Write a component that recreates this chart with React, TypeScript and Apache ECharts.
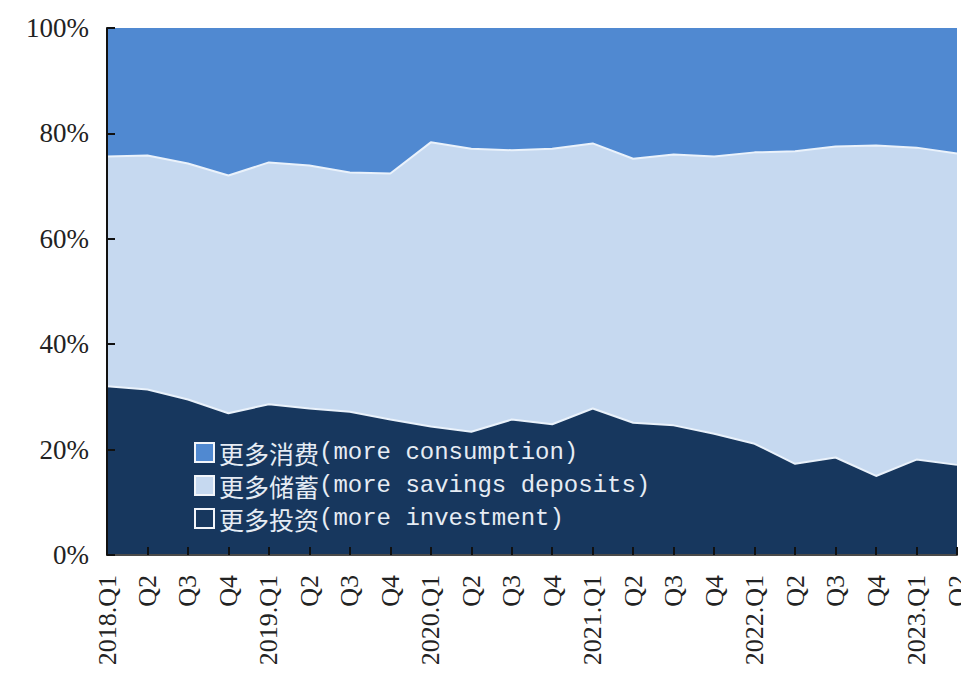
import React, { useEffect, useRef } from "react";
import * as echarts from "echarts";

const quarters = [
  "2018.Q1", "Q2", "Q3", "Q4",
  "2019.Q1", "Q2", "Q3", "Q4",
  "2020.Q1", "Q2", "Q3", "Q4",
  "2021.Q1", "Q2", "Q3", "Q4",
  "2022.Q1", "Q2", "Q3", "Q4",
  "2023.Q1", "Q2",
];

// 更多投资 (bottom)
const investment = [32.0, 31.4, 29.5, 26.9, 28.6, 27.8, 27.2, 25.7, 24.4, 23.4, 25.7, 24.8, 27.8, 25.1, 24.6, 23.0, 21.1, 17.3, 18.5, 15.0, 18.1, 17.1];
// 更多储蓄 (middle)
const savings = [43.6, 44.4, 44.8, 45.1, 45.9, 46.1, 45.4, 46.7, 53.9, 53.7, 51.1, 52.3, 50.3, 50.1, 51.4, 52.6, 55.3, 59.3, 59.0, 62.7, 59.2, 59.1];
// 更多消费 (top)
const consumption = [24.4, 24.2, 25.7, 28.0, 25.5, 26.1, 27.4, 27.6, 21.7, 22.9, 23.2, 22.9, 21.9, 24.8, 24.0, 24.4, 23.6, 23.4, 22.5, 22.3, 22.7, 23.8];

const yTicks = [0, 20, 40, 60, 80, 100];

const names = {
  consumption: "更多消费(more consumption)",
  savings: "更多储蓄(more savings deposits)",
  investment: "更多投资(more investment)",
};

const colors = {
  consumption: "#5089D1",
  savings: "#C6D9F0",
  investment: "#17375E",
};

export default function App() {
  const ref = useRef<HTMLDivElement>(null);
  useEffect(() => {
    if (!ref.current) return;
    const chart = echarts.init(ref.current, null, { renderer: "svg" });
    const serif = "'Liberation Serif', 'Times New Roman', serif";
    chart.setOption({
      animation: false,
      backgroundColor: "#ffffff",
      grid: { left: 107, right: 4, top: 28, bottom: 118, containLabel: false, outerBoundsMode: "none" },
      legend: {
        orient: "vertical",
        left: 189,
        top: 435,
        icon: "rect",
        itemWidth: 19,
        itemHeight: 19,
        itemGap: 8,
        selectedMode: false,
        formatter: (name: string) => {
          const idx = name.indexOf("(");
          return `{cn|${name.slice(0, idx)}}{en|${name.slice(idx)}}`;
        },
        textStyle: {
          color: "#E6ECF4",
          rich: {
            cn: { fontFamily: "'Noto Sans CJK SC'", fontSize: 25, color: "#E6ECF4", lineHeight: 24 },
            en: { fontFamily: "'Liberation Mono', monospace", fontSize: 24, color: "#E6ECF4", lineHeight: 24 },
          },
        },
        data: [
          { name: names.consumption, itemStyle: { color: colors.consumption, borderColor: "#F2F5FA", borderWidth: 2 } },
          { name: names.savings, itemStyle: { color: colors.savings, borderColor: "#F2F5FA", borderWidth: 2 } },
          { name: names.investment, itemStyle: { color: colors.investment, borderColor: "#F2F5FA", borderWidth: 2 } },
        ],
      },
      xAxis: {
        type: "category",
        data: quarters,
        boundaryGap: false,
        z: 10,
        axisLine: { show: true, lineStyle: { color: "#4a4a4a", width: 2 } },
        axisTick: { show: true, inside: true, length: 8, interval: 0, lineStyle: { color: "#111", width: 2 } },
        axisLabel: {
          interval: 0,
          rotate: 90,
          margin: 20,
          color: "#222",
          fontFamily: serif,
          fontSize: 26,
        },
        splitLine: { show: false },
      },
      yAxis: {
        type: "value",
        min: 0,
        max: 100,
        interval: 20,
        z: 10,
        axisLine: { show: true, lineStyle: { color: "#111", width: 2 } },
        axisTick: { show: true, inside: true, length: 8, lineStyle: { color: "#111", width: 2 } },
        axisLabel: {
          formatter: (v: number) => (yTicks.includes(v) ? `${v}%` : ""),
          margin: 18,
          color: "#222",
          fontFamily: serif,
          fontSize: 27,
        },
        splitLine: { show: false },
      },
      series: [
        {
          name: names.investment,
          type: "line",
          stack: "total",
          data: investment,
          symbol: "none",
          itemStyle: { color: colors.investment },
          lineStyle: { color: "#EAF2FB", width: 2 },
          areaStyle: { color: colors.investment, opacity: 1 },
        },
        {
          name: names.savings,
          type: "line",
          stack: "total",
          data: savings,
          symbol: "none",
          itemStyle: { color: colors.savings },
          lineStyle: { color: "#EAF2FB", width: 2 },
          areaStyle: { color: colors.savings, opacity: 1 },
        },
        {
          name: names.consumption,
          type: "line",
          stack: "total",
          data: consumption,
          symbol: "none",
          itemStyle: { color: colors.consumption },
          lineStyle: { color: colors.consumption, width: 0 },
          areaStyle: { color: colors.consumption, opacity: 1 },
        },
      ],
    });
    return () => chart.dispose();
  }, []);
  return (
    <div
      ref={ref}
      style={{ position: "fixed", left: 0, top: 0, width: 961, height: 673 }}
    />
  );
}
